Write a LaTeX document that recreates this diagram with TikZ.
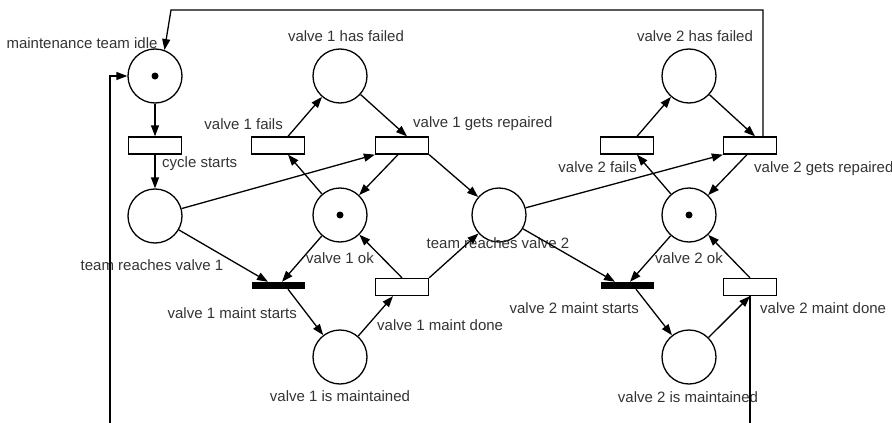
\documentclass[tikz,border=0pt]{standalone}
\usepackage{fontspec}
\setmainfont{Liberation Sans}
\usetikzlibrary{arrows.meta}
\begin{document}
\begin{tikzpicture}[x=1pt,y=-1pt,
  placebox/.style={circle,draw,line width=1.3pt,minimum size=54pt,inner sep=0pt},
  transbox/.style={rectangle,draw,line width=1.3pt,minimum width=53pt,minimum height=17pt,inner sep=0pt},
  barbox/.style={rectangle,fill=black,minimum width=53pt,minimum height=7pt,inner sep=0pt},
  lbltext/.style={text=black!80,font=\fontsize{15}{18}\selectfont,inner sep=0pt},
  flowarc/.style={line width=1.3pt,-{Triangle[length=11pt,width=8pt]}},
  wire/.style={line width=1.3pt}
]
\useasboundingbox (0,0) rectangle (892,423);

% places
\node[placebox] (idle)  at (155,76)  {};
\node[placebox] (v1f)   at (340,76)  {};
\node[placebox] (v2f)   at (689,76)  {};
\node[placebox] (team1) at (155,216) {};
\node[placebox] (v1ok)  at (340,215) {};
\node[placebox] (team2) at (499,215) {};
\node[placebox] (v2ok)  at (689,215) {};
\node[placebox] (v1m)   at (340,357) {};
\node[placebox] (v2m)   at (689,357) {};

% tokens
\fill (idle) circle (3.5);
\fill (v1ok) circle (3.5);
\fill (v2ok) circle (3.5);

% transitions
\node[transbox] (cyc)    at (155,145.5) {};
\node[transbox] (t1fail) at (278,145.5) {};
\node[transbox] (t1rep)  at (402,145.5) {};
\node[transbox] (t2fail) at (627,145.5) {};
\node[transbox] (t2rep)  at (750,145.5) {};
\node[transbox] (t1done) at (402,287)   {};
\node[transbox] (t2done) at (750,287)   {};
\node[barbox]   (b1)     at (278.5,285.5) {};
\node[barbox]   (b2)     at (627,285.5)   {};

% labels
\node[lbltext,anchor=base]      (l1)  at (82,48)   {maintenance team idle};
\node[lbltext,anchor=base]      (l2)  at (346,41)  {valve 1 has failed};
\node[lbltext,anchor=base east] (l3)  at (283,129) {valve 1 fails};
\node[lbltext,anchor=base west] (l4)  at (162,167) {cycle starts};
\node[lbltext,anchor=base west] (l5)  at (413,127) {valve 1 gets repaired};
\node[lbltext,anchor=base]      (l6)  at (695,41)  {valve 2 has failed};
\node[lbltext,anchor=base east] (l7)  at (637,172) {valve 2 fails};
\node[lbltext,anchor=base west] (l8)  at (754,172) {valve 2 gets repaired};
\node[lbltext,anchor=base]      (l9)  at (152,270) {team reaches valve 1};
\node[lbltext,anchor=base east] (l10) at (297,318) {valve 1 maint starts};
\node[lbltext,anchor=base]      (l11) at (340,263) {valve 1 ok};
\node[lbltext,anchor=base]      (l12) at (498,248) {team reaches valve 2};
\node[lbltext,anchor=base west] (l13) at (377,330) {valve 1 maint done};
\node[lbltext,anchor=base]      (l14) at (340,401) {valve 1 is maintained};
\node[lbltext,anchor=base east] (l15) at (639,313) {valve 2 maint starts};
\node[lbltext,anchor=base]      (l16) at (689,263) {valve 2 ok};
\node[lbltext,anchor=base west] (l17) at (760,313) {valve 2 maint done};
\node[lbltext,anchor=base]      (l18) at (688,402) {valve 2 is maintained};

% free ends of the long wires
\coordinate (topL) at (171,10);
\coordinate (botL) at (110,423);
\coordinate (botR) at (750,423);

% cycle
\draw[flowarc] (idle) -- (cyc);
\draw[flowarc] (cyc) -- (team1);

% valve 1
\draw[flowarc] (team1) -- (t1rep.south west);
\draw[flowarc] (team1) -- ([xshift=-10.5pt]b1.north);
\draw[flowarc] (v1ok) -- ([xshift=3.5pt]b1.north);
\draw[flowarc] ([xshift=9.5pt]b1.south) -- (v1m);
\draw[flowarc] (v1m) -- ([xshift=-9pt]t1done.south);
\draw[flowarc] (t1done.north) -- (v1ok);
\draw[flowarc] (t1done.north east) -- (team2);
\draw[flowarc] (v1ok) -- ([xshift=10pt]t1fail.south);
\draw[flowarc] ([xshift=10pt]t1fail.north) -- (v1f);
\draw[flowarc] (v1f) -- ([xshift=5pt]t1rep.north);
\draw[flowarc] ([xshift=-4pt]t1rep.south) -- (v1ok);
\draw[flowarc] (t1rep.south east) -- (team2);

% valve 2
\draw[flowarc] (team2) -- (t2rep.south west);
\draw[flowarc] (team2) -- ([xshift=-12pt]b2.north);
\draw[flowarc] (v2ok) -- ([xshift=3pt]b2.north);
\draw[flowarc] ([xshift=9pt]b2.south) -- (v2m);
\draw[flowarc] (v2m) -- (t2done.south);
\draw[flowarc] (t2done.north) -- (v2ok);
\draw[flowarc] (v2ok) -- ([xshift=10pt]t2fail.south);
\draw[flowarc] ([xshift=10pt]t2fail.north) -- (v2f);
\draw[flowarc] (v2f) -- ([xshift=5pt]t2rep.north);
\draw[flowarc] ([xshift=-3pt]t2rep.south) -- (v2ok);

% return wires
\draw[flowarc] ([xshift=13pt]t2rep.north) |- (topL) -- (idle.70);
\draw[flowarc] (botL) |- (idle);
\draw[wire] (t2done.south) -- (botR);
\end{tikzpicture}
\end{document}
